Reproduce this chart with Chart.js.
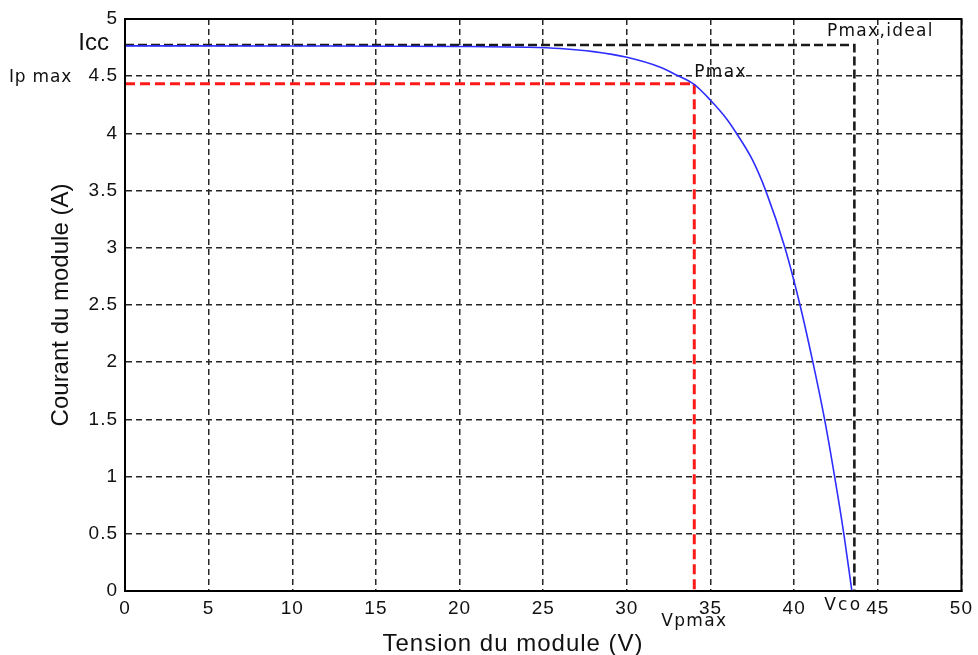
<!DOCTYPE html>
<html lang="fr">
<head>
  <meta charset="UTF-8" />
  <title>Caractéristique I-V</title>
  <script src="https://cdn.jsdelivr.net/npm/chart.js"></script>
  <style>
    html, body { margin: 0; padding: 0; background: #fff; }
    #wrap { width: 978px; height: 655px; }
  </style>
</head>
<body>
  <div id="wrap"><canvas id="ivChart" width="978" height="655"></canvas></div>

  <script>
    // courbe I(V) du module
    const tension = [0, 10, 20, 24, 26, 28, 30, 32, 33, 34, 35, 36, 36.6, 37.5, 38.3, 39.45, 40.35, 41.12, 41.82, 42.42, 42.97, 43.45];
    const courant = [4.765, 4.764, 4.76, 4.753, 4.742, 4.715, 4.665, 4.578, 4.508, 4.43, 4.29, 4.12, 3.99, 3.77, 3.5, 3.0, 2.5, 2.0, 1.5, 1.0, 0.5, 0];

    // points remarquables
    const icc = 4.773;
    const vco = 43.6;
    const ipmax = 4.435;
    const vpmax = 34.03;

    const xTicks = [0, 5, 10, 15, 20, 25, 30, 35, 40, 45, 50];
    const yTicks = [0, 0.5, 1, 1.5, 2, 2.5, 3, 3.5, 4, 4.5, 5];

    const font = "'Liberation Sans', Arial, sans-serif";
    const wide = "'DejaVu Sans', sans-serif";

    // espacement des lettres pour tout le texte du graphe
    const spacing = {
      id: 'spacing',
      beforeDraw(chart) { chart.ctx.letterSpacing = '1px'; }
    };

    // cadre + textes
    const extras = {
      id: 'extras',
      afterDraw(chart) {
        const { ctx, chartArea: a, scales: { x, y } } = chart;
        ctx.save();
        ctx.strokeStyle = '#000';
        ctx.lineWidth = 2;
        ctx.setLineDash([]);
        ctx.strokeRect(a.left, a.top, a.right - a.left, a.bottom - a.top);

        ctx.fillStyle = '#111';
        ctx.textBaseline = 'middle';

        ctx.letterSpacing = '0px';
        ctx.font = '24px ' + font;
        ctx.textAlign = 'right';
        ctx.fillText('Icc', a.left - 16, y.getPixelForValue(icc) - 2);

        ctx.textAlign = 'left';
        ctx.font = '17px ' + wide;
        ctx.letterSpacing = '0.8px';
        ctx.fillText('Ip max', 9, y.getPixelForValue(4.49));
        ctx.letterSpacing = '1.3px';
        ctx.fillText('Pmax', x.getPixelForValue(vpmax), y.getPixelForValue(4.53));
        ctx.fillText('Pmax,ideal', x.getPixelForValue(41.96), y.getPixelForValue(4.89));
        ctx.textAlign = 'center';
        ctx.fillText('Vpmax', x.getPixelForValue(vpmax), a.bottom + 31);
        ctx.textAlign = 'left';
        ctx.letterSpacing = '2.2px';
        ctx.fillText('Vco', x.getPixelForValue(41.8), a.bottom + 15);

        ctx.font = '24px ' + font;
        ctx.textAlign = 'center';
        ctx.letterSpacing = '1px';
        ctx.fillText('Tension du module (V)', 513, 644);
        ctx.letterSpacing = '0px';
        ctx.translate(61, (a.top + a.bottom) / 2);
        ctx.rotate(-Math.PI / 2);
        ctx.fillText('Courant du module (A)', 0, 0);
        ctx.restore();
      }
    };

    new Chart(document.getElementById('ivChart'), {
      type: 'line',
      data: {
        datasets: [
          {
            label: 'Icc / Vco',
            data: [{ x: 0, y: icc }, { x: vco, y: icc }, { x: vco, y: 0 }],
            borderColor: '#1a1a1a',
            borderWidth: 2.6,
            borderDash: [9, 4],
            pointRadius: 0,
            fill: false,
            order: 2
          },
          {
            label: 'Pmax',
            data: [{ x: 0, y: ipmax }, { x: vpmax, y: ipmax }, { x: vpmax, y: 0 }],
            borderColor: '#ff1a1a',
            borderWidth: 3,
            borderDash: [10, 5],
            pointRadius: 0,
            fill: false,
            order: 1
          },
          {
            label: 'I(V)',
            data: tension.map((v, i) => ({ x: v, y: courant[i] })),
            borderColor: '#2e2eff',
            borderWidth: 1.6,
            cubicInterpolationMode: 'monotone',
            pointRadius: 0,
            fill: false,
            order: 0
          }
        ]
      },
      options: {
        responsive: false,
        animation: false,
        layout: { padding: { left: 0, top: 19, right: 13, bottom: 0 } },
        plugins: { legend: { display: false }, tooltip: { enabled: false } },
        scales: {
          x: {
            type: 'linear',
            min: 0,
            max: 50,
            afterFit(s) { s.height = 64; },
            afterBuildTicks(s) { s.ticks = xTicks.map(v => ({ value: v })); },
            grid: { color: '#262626', lineWidth: 1.5, drawTicks: false },
            border: { display: true, color: '#000', width: 2, dash: [6, 4] },
            ticks: { color: '#111', font: { family: font, size: 19 }, padding: 6, maxRotation: 0,
                     callback: v => String(v) }
          },
          y: {
            type: 'linear',
            min: 0,
            max: 5,
            afterFit(s) { s.width = 125; },
            afterBuildTicks(s) { s.ticks = yTicks.map(v => ({ value: v })); },
            grid: { color: '#262626', lineWidth: 1.5, drawTicks: false },
            border: { display: true, color: '#000', width: 2, dash: [6, 4] },
            ticks: { color: '#111', font: { family: font, size: 19 }, padding: 7,
                     callback: v => String(v) }
          }
        }
      },
      plugins: [spacing, extras]
    });
  </script>
</body>
</html>
